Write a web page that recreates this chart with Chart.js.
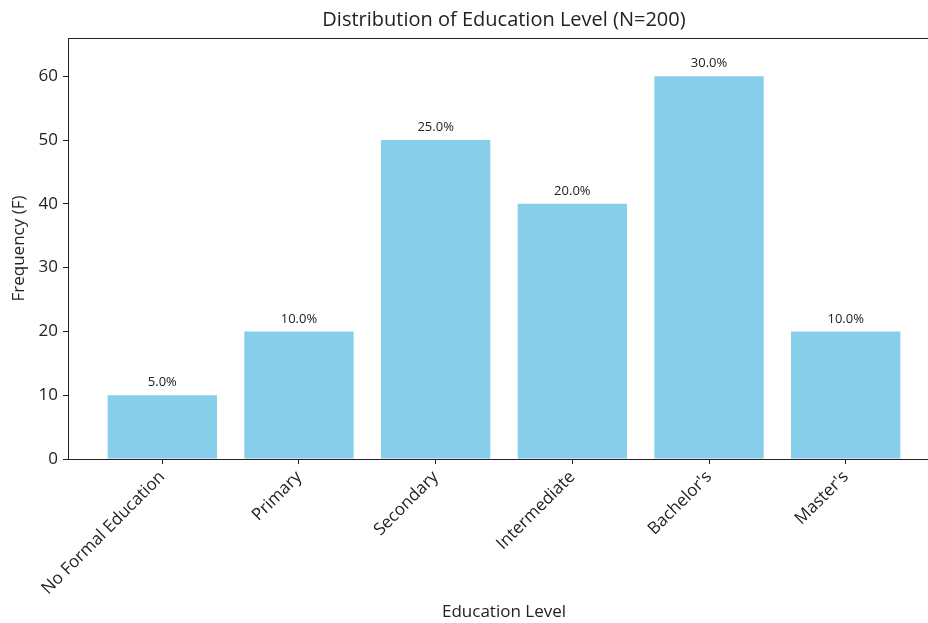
<!DOCTYPE html>
<html>
<head>
<meta charset="utf-8">
<script src="https://cdn.jsdelivr.net/npm/chart.js@4.4.1/dist/chart.umd.min.js"></script>
<style>
    html, body { margin: 0; padding: 0; background: #fff; overflow: hidden; }
    canvas { display: block; }
</style>
</head>
<body>
<canvas id="eduChart" width="942" height="623"></canvas>
<script>
// ========================================
// Education level distribution data
// ========================================
const categories = ['No Formal Education', 'Primary', 'Secondary', 'Intermediate', "Bachelor's", "Master's"];
const frequencies = [10, 20, 50, 40, 60, 20];
const pctLabels = ['5.0%', '10.0%', '25.0%', '20.0%', '30.0%', '10.0%'];
const yTicks = [0, 10, 20, 30, 40, 50, 60];

const FONT = '"Open Sans", sans-serif';
const TEXT = '#222222';

// Draws the title over the plot area, the box around it and the % labels
const decorPlugin = {
    id: 'decor',
    afterDatasetsDraw(chart) {
        const { ctx, chartArea } = chart;
        ctx.save();
        ctx.strokeStyle = '#222';
        ctx.lineWidth = 1;
        ctx.strokeRect(chartArea.left + 0.5, chartArea.top + 0.5,
            chartArea.right - chartArea.left, chartArea.bottom - chartArea.top);

        // percentage labels above bars
        const meta = chart.getDatasetMeta(0);
        ctx.fillStyle = TEXT;
        ctx.font = '13px ' + FONT;
        ctx.textAlign = 'center';
        ctx.textBaseline = 'bottom';
        meta.data.forEach((bar, i) => {
            ctx.fillText(pctLabels[i], bar.x, bar.y - 6);
        });

        // title
        ctx.font = '20px ' + FONT;
        ctx.textBaseline = 'middle';
        ctx.fillText('Distribution of Education Level (N=200)',
            (chartArea.left + chartArea.right) / 2, 20);
        ctx.restore();
    }
};

const ctx = document.getElementById('eduChart').getContext('2d');
new Chart(ctx, {
    type: 'bar',
    data: {
        datasets: [{
            data: frequencies.map((v, i) => ({ x: i, y: v })),
            backgroundColor: '#87CEEB',
            borderWidth: 0,
            barPercentage: 0.8,
            categoryPercentage: 1.0
        }]
    },
    options: {
        responsive: false,
        animation: false,
        devicePixelRatio: 1,
        layout: { padding: { top: 38, right: 2, left: 0, bottom: 0 } },
        plugins: {
            legend: { display: false },
            tooltip: { enabled: false }
        },
        scales: {
            x: {
                type: 'linear',
                offset: false,
                min: -0.69,
                max: 5.69,
                afterBuildTicks: (scale) => { scale.ticks = categories.map((_, i) => ({ value: i })); },
                afterFit: (scale) => { scale.height = 164; },
                ticks: {
                    autoSkip: false,
                    minRotation: 45,
                    maxRotation: 45,
                    padding: 3,
                    color: TEXT,
                    font: { family: FONT, size: 17 },
                    callback: (v) => categories[v]
                },
                grid: { drawOnChartArea: false, offset: false, tickLength: 5, color: '#222' },
                border: { color: '#222', width: 1 },
                title: {
                    display: true,
                    text: 'Education Level',
                    color: TEXT,
                    font: { family: FONT, size: 17 },
                    padding: { top: 0, bottom: 1 }
                }
            },
            y: {
                min: 0,
                max: 66,
                afterBuildTicks: (scale) => { scale.ticks = yTicks.map(v => ({ value: v })); },
                afterFit: (scale) => { scale.width = 68; },
                ticks: {
                    padding: 5,
                    color: TEXT,
                    font: { family: FONT, size: 17 }
                },
                grid: { drawOnChartArea: false, tickLength: 5, color: '#222' },
                border: { color: '#222', width: 1 },
                title: {
                    display: true,
                    text: 'Frequency (F)',
                    color: TEXT,
                    font: { family: FONT, size: 17 },
                    padding: { top: 9, bottom: 0 }
                }
            }
        }
    },
    plugins: [decorPlugin]
});
</script>
</body>
</html>
